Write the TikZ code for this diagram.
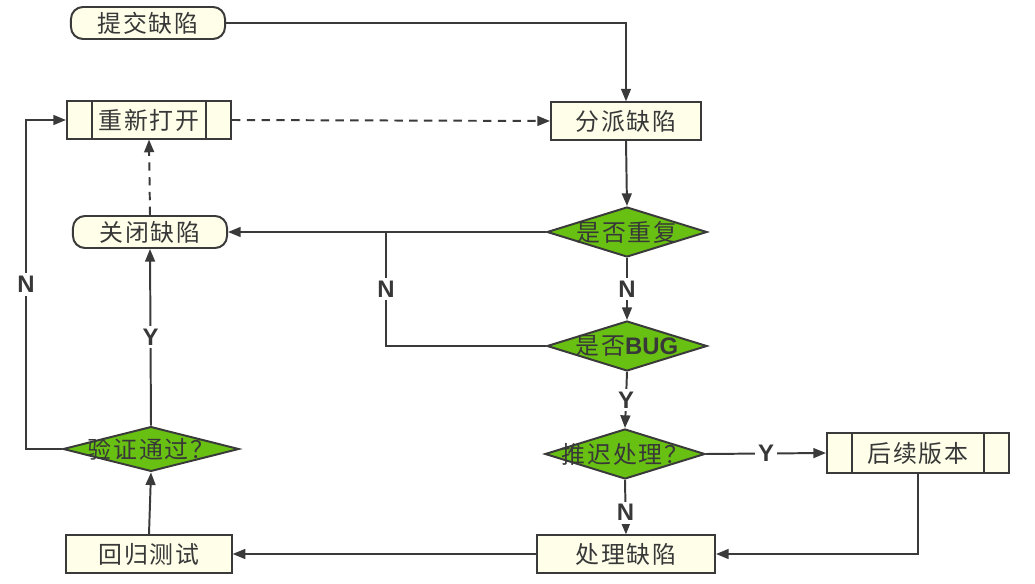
\documentclass[tikz,border=0pt]{standalone}
\usepackage{fontspec}
\setmainfont{Liberation Sans}
\newfontfamily\cjk[LetterSpace=7]{Noto Sans CJK SC}
\usetikzlibrary{shapes.geometric,arrows.meta}
\definecolor{boxfill}{HTML}{FEFEE9}
\definecolor{boxline}{HTML}{3A3A3A}
\definecolor{leaf}{HTML}{68C012}
\definecolor{ink}{HTML}{383838}

\begin{document}
\begin{tikzpicture}[x=0.025cm, y=-0.025cm,
  every node/.style={text=ink, font=\cjk\fontsize{17}{19}\selectfont},
  base/.style={draw=boxline, line width=1.4pt, fill=boxfill, inner sep=0pt},
  terminal/.style={base, rounded corners=0.3cm, minimum width=3.85cm, minimum height=0.8cm},
  proc/.style={base, minimum height=0.93cm},
  predef/.style={proc, path picture={
      \draw[boxline, line width=1.4pt]
        ([xshift=0.62cm]path picture bounding box.north west) -- ([xshift=0.62cm]path picture bounding box.south west)
        ([xshift=-0.62cm]path picture bounding box.north east) -- ([xshift=-0.62cm]path picture bounding box.south east);}},
  decide/.style={diamond, draw=boxline, line width=1.4pt, fill=leaf, inner sep=0pt,
      minimum width=4cm, minimum height=1.25cm,
      execute at begin node={\hbox to 0pt\bgroup\hss}, execute at end node={\hss\egroup}},
  lbl/.style={fill=white, inner sep=2pt, font=\bfseries\fontsize{17}{17}\selectfont},
  wire/.style={draw=boxline, line width=1.4pt},
  flow/.style={wire, -{Triangle[length=9pt,width=7pt]}},
  back/.style={flow, dash pattern=on 6pt off 4.5pt}]
  \useasboundingbox (0,0) rectangle (1035,584);

  \node[terminal] (submit) at (148,23) {提交缺陷};
  \node[predef, minimum width=4.1cm] (reopen) at (149,120) {重新打开};
  \node[proc, minimum width=3.75cm] (assign) at (626,121) {分派缺陷};
  \node[terminal] (close) at (150,232) {关闭缺陷};
  \node[decide] (dup) at (627,232) {是否重复};
  \node[decide] (bug) at (627,346) {是否{\rmfamily\bfseries BUG}};
  \node[decide] (hold) at (625,454) {推迟处理？};
  \node[predef, minimum width=4.55cm, minimum height=1cm] (later) at (918,453) {后续版本};
  \node[decide, minimum width=4.4cm, minimum height=1.12cm] (verify) at (151,449) {验证通过？};
  \node[proc, minimum width=4.13cm] (retest) at (149,554) {回归测试};
  \node[proc, minimum width=4.45cm] (fix) at (626,554) {处理缺陷};
  \coordinate (jn) at (386,232);

  \draw[flow] (submit.east) -| (assign.north);
  \draw[back] (reopen.east) -- (assign.west);
  \draw[flow] (assign.south) -- (dup.north);
  \draw[flow] (dup.west) -- (close.east);
  \draw[wire] (bug.west) -| node[lbl, pos=0.75] {N} (jn);
  \draw[flow] (dup.south) -- node[lbl] {N} (bug.north);
  \draw[flow] (bug.south) -- node[lbl] {Y} (hold.north);
  \draw[flow] (hold.east) -- node[lbl] {Y} (later.west);
  \draw[flow] (hold.south) -- node[lbl, pos=0.6] {N} (fix.north);
  \draw[flow] (later.south) |- (fix.east);
  \draw[flow] (fix.west) -- (retest.east);
  \draw[flow] (retest.north) -- (verify.south);
  \draw[flow] (verify.north) -- node[lbl] {Y} (close.south);
  \draw[flow] (verify.west) -- ++(-36,0) |- node[lbl, pos=0.25] {N} (reopen.west);
  \draw[back] (close.north) -- (reopen.south);
\end{tikzpicture}
\end{document}
